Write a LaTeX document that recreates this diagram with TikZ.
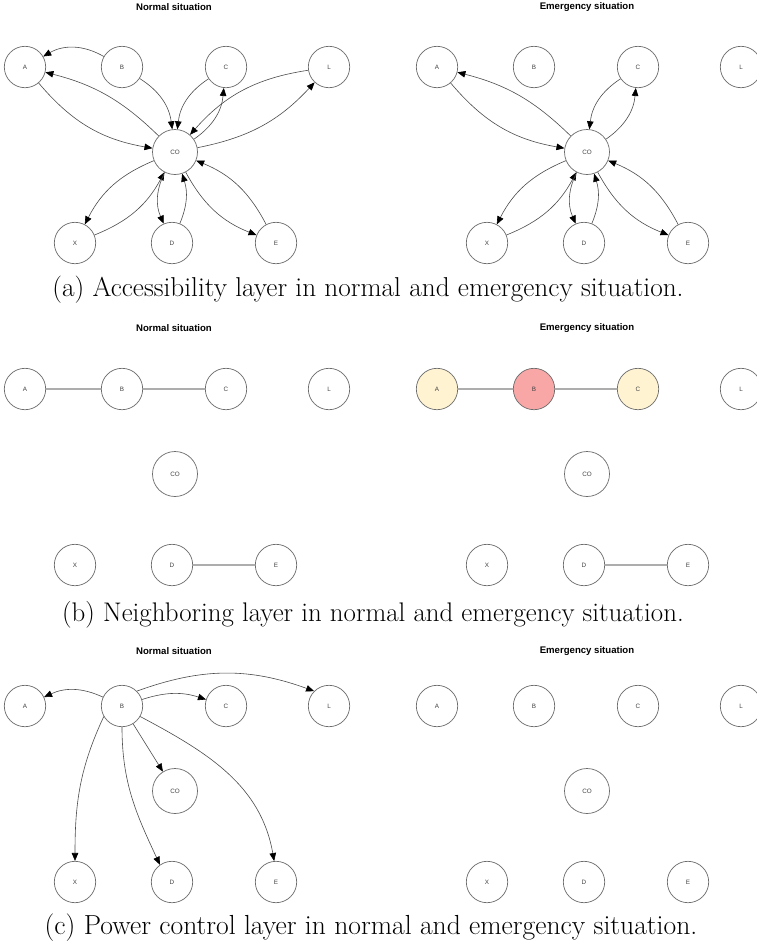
\documentclass[tikz,border=0pt]{standalone}
\usepackage{fontspec}
\newfontfamily\arialfont{Liberation Sans}
\usetikzlibrary{arrows.meta}
\definecolor{edgegray}{gray}{0.3}
\definecolor{nodegray}{gray}{0.42}
\definecolor{lightline}{gray}{0.68}
\definecolor{yelf}{RGB}{255,243,210}
\definecolor{redf}{RGB}{248,166,166}
\tikzset{
  nd/.style={circle, draw=nodegray, line width=0.7pt, minimum size=41.4pt, inner sep=0pt,
    font=\arialfont\fontsize{6.3}{7}\selectfont, text=black!75},
  conode/.style={nd, minimum size=45pt},
  arr/.style={draw=edgegray, line width=0.6pt, -{Triangle[length=8pt,width=6.5pt,color=black]}},
  nb/.style={draw=lightline, line width=1.3pt},
  ttl/.style={font=\arialfont\bfseries\fontsize{9.6}{11}\selectfont},
  capstyle/.style={font=\fontsize{27.3}{31}\selectfont, inner sep=0pt}
}
% #1 prefix, #2 dx, #3 dy, #4 fill A, #5 fill B, #6 fill C
\newcommand\placenodes[6]{%
  \node[nd, fill=#4] (#1A) at (#2+25,-#3-67) {A};
  \node[nd, fill=#5] (#1B) at (#2+122,-#3-67) {B};
  \node[nd, fill=#6] (#1C) at (#2+226,-#3-67) {C};
  \node[nd] (#1L) at (#2+329,-#3-67) {L};
  \node[conode] (#1CO) at (#2+175,-#3-152) {CO};
  \node[nd] (#1X) at (#2+75,-#3-243) {X};
  \node[nd] (#1D) at (#2+172,-#3-243) {D};
  \node[nd] (#1E) at (#2+276,-#3-243) {E};
}
\begin{document}
\begin{tikzpicture}[x=1pt,y=1pt]
\useasboundingbox (0,0) rectangle (756,-948);
\fill[white] (0,0) rectangle (756,-948);

% ---------- (a) ----------
\node[ttl] (t1) at (174,-7) {Normal situation};
\node[ttl] (t2) at (587,-7) {Emergency situation};
\placenodes{aN}{0}{0}{white}{white}{white}
\placenodes{aE}{412}{0}{white}{white}{white}
\draw[arr] (aNB) to[bend right=30] (aNA);
\draw[arr] (aNCO) to[bend right=15] (aNA);
\draw[arr] (aNA) to[bend right=20] (aNCO);
\draw[arr] (aNB) to[bend left=25] (aNCO);
\draw[arr] (aNC) to[bend right=25] (aNCO);
\draw[arr] (aNCO) to[bend right=25] (aNC);
\draw[arr] (aNL) to[bend right=20] (aNCO);
\draw[arr] (aNCO) to[bend right=18] (aNL);
\draw[arr] (aNCO) to[bend right=20] (aNX);
\draw[arr] (aNX) to[bend right=20] (aNCO);
\draw[arr] (aNCO) to[bend right=25] (aND);
\draw[arr] (aND) to[bend right=20] (aNCO);
\draw[arr] (aNCO) to[bend right=20] (aNE);
\draw[arr] (aNE) to[bend right=20] (aNCO);

\draw[arr] (aECO) to[bend right=15] (aEA);
\draw[arr] (aEA) to[bend right=20] (aECO);
\draw[arr] (aEC) to[bend right=25] (aECO);
\draw[arr] (aECO) to[bend right=25] (aEC);
\draw[arr] (aECO) to[bend right=20] (aEX);
\draw[arr] (aEX) to[bend right=20] (aECO);
\draw[arr] (aECO) to[bend right=25] (aED);
\draw[arr] (aED) to[bend right=20] (aECO);
\draw[arr] (aECO) to[bend right=20] (aEE);
\draw[arr] (aEE) to[bend right=20] (aECO);
\node[capstyle] (capa) at (368,-290) {(a) Accessibility layer in normal and emergency situation.};

% ---------- (b) ----------
\node[ttl] (t3) at (174,-328) {Normal situation};
\node[ttl] (t4) at (587,-328) {Emergency situation};
\placenodes{bN}{0}{322}{white}{white}{white}
\placenodes{bE}{412}{322}{yelf}{redf}{yelf}
\draw[nb] (bNA) -- (bNB);
\draw[nb] (bNB) -- (bNC);
\draw[nb] (bND) -- (bNE);
\draw[nb] (bEA) -- (bEB);
\draw[nb] (bEB) -- (bEC);
\draw[nb] (bED) -- (bEE);
\node[capstyle, font=\fontsize{26.9}{31}\selectfont] (capb) at (373,-615) {(b) Neighboring layer in normal and emergency situation.};

% ---------- (c) ----------
\node[ttl] (t5) at (174,-651) {Normal situation};
\node[ttl] (t6) at (587,-651) {Emergency situation};
\placenodes{cN}{0}{639}{white}{white}{white}
\placenodes{cE}{412}{639}{white}{white}{white}
\draw[arr] (cNB) to[bend right=25] (cNA);
\draw[arr] (cNB) to[bend left=18] (cNC);
\draw[arr] (cNB.45) to[out=20,in=160] (cNL.135);
\draw[arr] (cNB) -- (cNCO);
\draw[arr] (cNB.210) to[out=245,in=90] (cNX.north);
\draw[arr] (cNB.270) to[out=270,in=115] (cND.125);
\draw[arr] (cNB.330) to[out=-28,in=100] (cNE.95);
\node[capstyle, font=\fontsize{27.6}{31}\selectfont] (capc) at (371,-928) {(c) Power control layer in normal and emergency situation.};
\end{tikzpicture}
\end{document}
